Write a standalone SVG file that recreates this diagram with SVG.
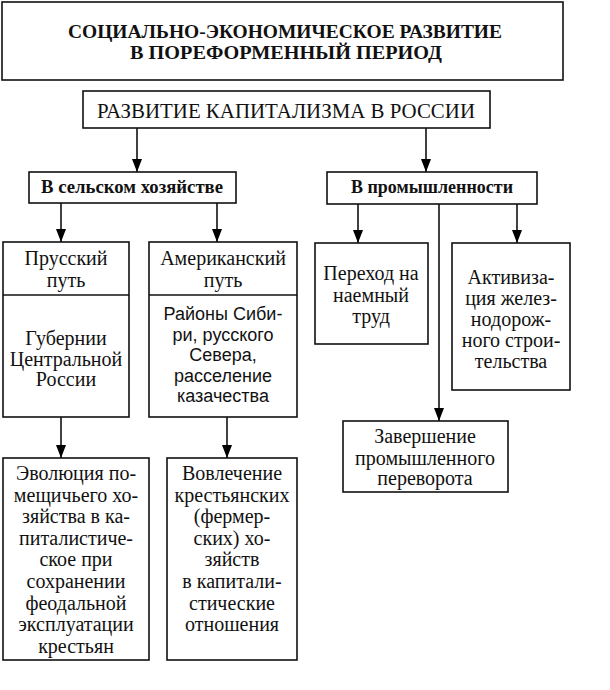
<svg xmlns="http://www.w3.org/2000/svg" width="610" height="690" viewBox="0 0 610 690" font-family="'Liberation Serif', 'DejaVu Serif', serif">
<defs>
<marker id="ah" markerWidth="13" markerHeight="10" refX="13" refY="5" orient="auto" markerUnits="userSpaceOnUse" viewBox="0 0 13 10">
<path d="M0,0 L13,5 L0,10 Z" fill="#000"/>
</marker>
</defs>
<style>
rect{fill:#fff;stroke:#111;stroke-width:1.6}
text{font-family:'Liberation Serif', 'DejaVu Serif', serif;fill:#111;text-anchor:middle}
.t{font-size:18px;font-weight:bold}
.h{font-size:20px}
.b{font-size:18px;font-weight:bold}
.n{font-size:18px;font-family:'Liberation Sans', Arial, sans-serif}
.c line{stroke:#111;stroke-width:1.6}
.c line.a{marker-end:url(#ah)}
</style>
<rect width="610" height="690" style="fill:#fff;stroke:none"/>
<g class="c" id="connectors">
<line x1="137" y1="128" x2="137" y2="172" class="a"/>
<line x1="426" y1="128" x2="426" y2="172" class="a"/>
<line x1="61" y1="203" x2="61" y2="242" class="a"/>
<line x1="217" y1="203" x2="217" y2="242" class="a"/>
<line x1="358" y1="204" x2="358" y2="243" class="a"/>
<line x1="517" y1="204" x2="517" y2="243" class="a"/>
<line x1="439" y1="204" x2="439" y2="421" class="a"/>
<line x1="61" y1="417" x2="61" y2="458" class="a"/>
<line x1="227" y1="417" x2="227" y2="458" class="a"/>
</g>
<g id="title">
<rect x="2" y="2" width="561" height="78"/>
<text class="t" x="285" y="38" textLength="434" lengthAdjust="spacingAndGlyphs">СОЦИАЛЬНО-ЭКОНОМИЧЕСКОЕ РАЗВИТИЕ</text>
<text class="t" x="286" y="59" textLength="312" lengthAdjust="spacingAndGlyphs">В ПОРЕФОРМЕННЫЙ ПЕРИОД</text>
</g>
<g id="capitalism">
<rect x="83" y="91" width="407" height="37"/>
<text class="h" x="286" y="118" textLength="378" lengthAdjust="spacingAndGlyphs">РАЗВИТИЕ КАПИТАЛИЗМА В РОССИИ</text>
</g>
<g id="agriculture">
<rect x="29" y="172" width="207" height="31"/>
<text class="b" x="132" y="193" textLength="182" lengthAdjust="spacingAndGlyphs">В сельском хозяйстве</text>
</g>
<g id="industry">
<rect x="327" y="172" width="210" height="32"/>
<text class="b" x="432" y="193" textLength="162" lengthAdjust="spacingAndGlyphs">В промышленности</text>
</g>
<g id="prussian">
<rect x="3" y="242" width="126" height="175"/>
<line x1="3" y1="295" x2="129" y2="295" style="stroke:#111;stroke-width:1.6"/>
<text class="h" x="66" y="265">Прусский</text>
<text class="h" x="66" y="287">путь</text>
<text class="h" x="66" y="345">Губернии</text>
<text class="h" x="66" y="365.5">Центральной</text>
<text class="h" x="66" y="386">России</text>
</g>
<g id="american">
<rect x="149" y="242" width="148" height="175"/>
<line x1="149" y1="295" x2="297" y2="295" style="stroke:#111;stroke-width:1.6"/>
<text class="h" x="223" y="265">Американский</text>
<text class="h" x="223" y="287">путь</text>
<text class="n" x="223" y="320">Районы Сиби-</text>
<text class="n" x="223" y="340.5">ри, русского</text>
<text class="n" x="223" y="361">Севера,</text>
<text class="n" x="223" y="381.5">расселение</text>
<text class="n" x="223" y="402">казачества</text>
</g>
<g id="hired">
<rect x="315" y="243" width="113" height="101"/>
<text class="h" x="371" y="280">Переход на</text>
<text class="h" x="371" y="302">наемный</text>
<text class="h" x="371" y="323">труд</text>
</g>
<g id="railway">
<rect x="452" y="243" width="118" height="147"/>
<text class="h" x="511" y="284">Активиза-</text>
<text class="h" x="511" y="305">ция желез-</text>
<text class="h" x="511" y="326">нодорож-</text>
<text class="h" x="511" y="347">ного строи-</text>
<text class="h" x="511" y="368">тельства</text>
</g>
<g id="revolution">
<rect x="343" y="421" width="165" height="71"/>
<text class="h" x="425" y="443">Завершение</text>
<text class="h" x="425" y="465">промышленного</text>
<text class="h" x="425" y="485">переворота</text>
</g>
<g id="evolution">
<rect x="3" y="458" width="146" height="202"/>
<text class="h" x="76" y="480">Эволюция по-</text>
<text class="h" x="76" y="501.6">мещичьего хо-</text>
<text class="h" x="76" y="523.2">зяйства в ка-</text>
<text class="h" x="76" y="544.8">питалистиче-</text>
<text class="h" x="76" y="566.4">ское при</text>
<text class="h" x="76" y="588">сохранении</text>
<text class="h" x="76" y="609.6">феодальной</text>
<text class="h" x="76" y="631.2">эксплуатации</text>
<text class="h" x="76" y="652.8">крестьян</text>
</g>
<g id="involvement">
<rect x="167" y="458" width="130" height="202"/>
<text class="h" x="232" y="480">Вовлечение</text>
<text class="h" x="232" y="501.6">крестьянских</text>
<text class="h" x="232" y="523.2">(фермер-</text>
<text class="h" x="232" y="544.8">ских) хо-</text>
<text class="h" x="232" y="566.4">зяйств</text>
<text class="h" x="232" y="588">в капитали-</text>
<text class="h" x="232" y="609.6">стические</text>
<text class="h" x="232" y="631.2">отношения</text>
</g>
</svg>
